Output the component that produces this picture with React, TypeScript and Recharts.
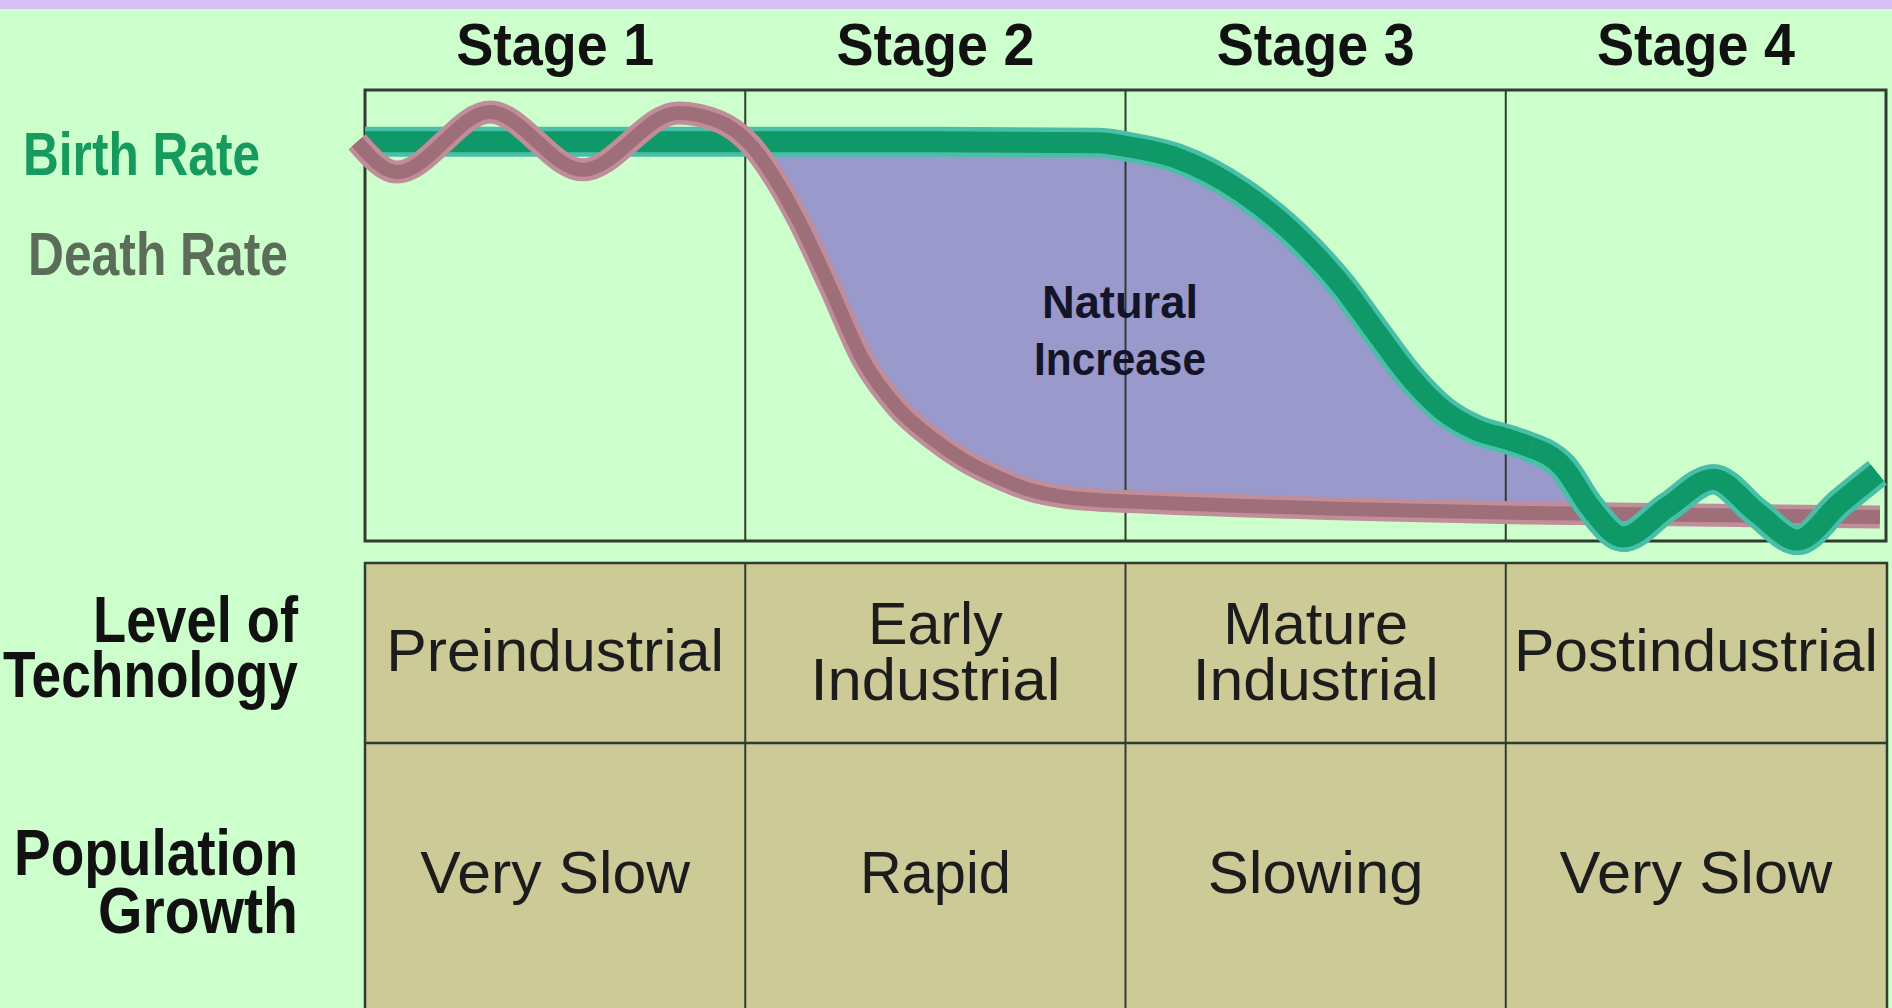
import React from "react";
import {
  ComposedChart,
  Line,
  Area,
  XAxis,
  YAxis,
  ReferenceLine,
  ReferenceArea,
  ReferenceDot,
} from "recharts";

const FONT = '"Liberation Sans", Arial, sans-serif';

// stage headers sit in the middle of each stage on the x axis
const STAGE_LABELS = ["Stage 1", "Stage 2", "Stage 3", "Stage 4"];
const STAGE_CENTERS = [0.5, 1.5, 2.5, 3.5];
const STAGE_BOUNDS = [1, 2, 3];

// birth rate (x in stages, y = 0..100 of the box height)
const BIRTH_X = [0, 1.0, 1.5, 1.93, 2.0, 2.135, 2.309, 2.44, 2.572, 2.661, 2.748, 2.835, 2.924, 3.011, 3.064, 3.151, 3.222, 3.309, 3.425, 3.546, 3.662, 3.767, 3.879, 3.977];
const BIRTH_Y = [88.5, 88.5, 88.5, 88.3, 87.5, 84.9, 77.2, 68.3, 56.3, 46.1, 36.4, 29.0, 24.6, 22.4, 20.8, 16.4, 7.5, 0.9, 7.5, 13.7, 6.2, 0.2, 8.4, 15.1];

// death rate
const DEATH_X = [-0.021, 0.084, 0.329, 0.573, 0.823, 0.934, 1.002, 1.136, 1.223, 1.31, 1.399, 1.486, 1.573, 1.662, 1.749, 1.836, 1.925, 2.057, 3.064, 3.984];
const DEATH_Y = [88.5, 81.8, 95.1, 82.3, 94.9, 92.9, 88.9, 71.8, 56.3, 40.1, 29.7, 23.1, 18.0, 14.2, 11.3, 9.8, 9.1, 8.6, 6.2, 5.3];

// natural increase = gap between death (low) and birth (high)
const INCREASE_X = [1.0, 1.05, 1.1, 1.2, 1.3, 1.4, 1.5, 1.6, 1.7, 1.8, 1.9, 2.0, 2.2, 2.4, 2.6, 2.8, 3.0, 3.1, 3.2, 3.24];
const INCREASE_LOW = [88.5, 83.8, 76.7, 60.5, 41.9, 29.7, 22.4, 16.9, 13.3, 10.4, 9.3, 8.9, 8.2, 7.8, 7.3, 6.9, 6.4, 6.2, 6.0, 6.0];
const INCREASE_HIGH = [88.5, 88.5, 88.5, 88.5, 88.5, 88.5, 88.5, 88.5, 88.5, 88.5, 88.4, 87.5, 82.3, 71.0, 53.0, 31.9, 22.6, 19.1, 9.8, 6.4];

// table under the chart
const TECHNOLOGY = [["Preindustrial"], ["Early", "Industrial"], ["Mature", "Industrial"], ["Postindustrial"]];
const TECH_WIDTHS = [[338], [135, 250], [185, 246], [364]];
const GROWTH = ["Very Slow", "Rapid", "Slowing", "Very Slow"];
const GROWTH_WIDTHS = [270, 151, 216, 273];

const birthData = BIRTH_X.map((x, i) => ({ x, y: BIRTH_Y[i] }));
const birthTail = birthData.filter((d) => d.x >= 3.06);
const deathData = DEATH_X.map((x, i) => ({ x, y: DEATH_Y[i] }));
const increaseData = INCREASE_X.map((x, i) => ({ x, range: [INCREASE_LOW[i], INCREASE_HIGH[i]] }));

const BOX_LEFT = 365;
const STAGE_W = 380.25;
const LINE_COLOR = "#2e3d30";

function StageTick(props: any) {
  const { x, y, payload } = props;
  const label = STAGE_LABELS[STAGE_CENTERS.indexOf(payload.value)];
  return (
    <text x={x} y={y} textAnchor="middle" fontFamily={FONT} fontSize={60} fontWeight="bold" fill="#111"
      textLength={198} lengthAdjust="spacingAndGlyphs">
      {label}
    </text>
  );
}

function IncreaseLabel(props: any) {
  const vb = props.viewBox || {};
  const cx = vb.x + (vb.width || 0) / 2;
  const cy = vb.y + (vb.height || 0) / 2;
  return (
    <g>
      <text x={cx} y={cy - 12} textAnchor="middle" fontFamily={FONT} fontSize={46} fontWeight="bold" fill="#141428"
        textLength={156} lengthAdjust="spacingAndGlyphs">Natural</text>
      <text x={cx} y={cy + 45} textAnchor="middle" fontFamily={FONT} fontSize={46} fontWeight="bold" fill="#141428"
        textLength={172} lengthAdjust="spacingAndGlyphs">Increase</text>
    </g>
  );
}

function Table() {
  const top = 563;
  const split = 743;
  const right = BOX_LEFT + STAGE_W * 4 + 1;
  const col = (i: number) => BOX_LEFT + STAGE_W * i;
  const mid = (i: number) => BOX_LEFT + STAGE_W * (i + 0.5);
  const cellText = { fontFamily: FONT, fontSize: 59, fill: "#1c1c1c", textAnchor: "middle" as const, lengthAdjust: "spacingAndGlyphs" };
  const sideText = { fontFamily: FONT, fontSize: 64, fontWeight: "bold" as const, fill: "#111", textAnchor: "end" as const, lengthAdjust: "spacingAndGlyphs" };
  return (
    <svg width={1892} height={1008} style={{ position: "absolute", left: 0, top: 0, pointerEvents: "none" }}>
      <rect x={0} y={0} width={1892} height={9} fill="#d6c0f5" />

      {/* left legend */}
      <text x={23} y={175} fontFamily={FONT} fontSize={62} fontWeight="bold" fill="#169a5e" textLength={237} lengthAdjust="spacingAndGlyphs">Birth Rate</text>
      <text x={28} y={275} fontFamily={FONT} fontSize={62} fontWeight="bold" fill="#5b6c59" textLength={260} lengthAdjust="spacingAndGlyphs">Death Rate</text>

      {/* row headers */}
      <text x={298} y={642} {...sideText} textLength={205}>Level of</text>
      <text x={298} y={697} {...sideText} textLength={295}>Technology</text>
      <text x={298} y={875} {...sideText} textLength={284}>Population</text>
      <text x={298} y={933} {...sideText} textLength={200}>Growth</text>

      <rect x={BOX_LEFT} y={top} width={right - BOX_LEFT} height={1008 - top + 4} fill="#cccb98" stroke={LINE_COLOR} strokeWidth={2.5} />
      <line x1={BOX_LEFT} x2={right} y1={split} y2={split} stroke={LINE_COLOR} strokeWidth={2.5} />
      {STAGE_BOUNDS.map((b) => (
        <line key={b} x1={col(b)} x2={col(b)} y1={top} y2={1008} stroke={LINE_COLOR} strokeWidth={2} />
      ))}

      {TECHNOLOGY.map((lines, i) =>
        lines.length === 1 ? (
          <text key={i} x={mid(i)} y={671} {...cellText} textLength={TECH_WIDTHS[i][0]}>{lines[0]}</text>
        ) : (
          <g key={i}>
            <text x={mid(i)} y={644} {...cellText} textLength={TECH_WIDTHS[i][0]}>{lines[0]}</text>
            <text x={mid(i)} y={700} {...cellText} textLength={TECH_WIDTHS[i][1]}>{lines[1]}</text>
          </g>
        )
      )}
      {GROWTH.map((g, i) => (
        <text key={i} x={mid(i)} y={893} {...cellText} textLength={GROWTH_WIDTHS[i]}>{g}</text>
      ))}
    </svg>
  );
}

export default function App() {
  return (
    <div style={{ position: "absolute", left: 0, top: 0, width: 1892, height: 1008, background: "#ccffcc", overflow: "hidden" }}>
      <div style={{ position: "absolute", left: 0, top: 0 }}>
        <ComposedChart width={1892} height={560} margin={{ top: 30, right: 6, bottom: 19, left: 355.5 }}>
          <XAxis
            dataKey="x"
            type="number"
            domain={[-0.025, 4]}
            ticks={STAGE_CENTERS}
            interval={0}
            orientation="top"
            height={60}
            axisLine={false}
            tickLine={false}
            tickSize={0}
            tickMargin={25}
            tick={<StageTick />}
          />
          <YAxis hide type="number" domain={[0, 100]} />

          <ReferenceArea x1={0} x2={4} y1={0} y2={100} fill="none" stroke={LINE_COLOR} strokeWidth={3} />
          {STAGE_BOUNDS.map((b) => (
            <ReferenceLine key={b} x={b} stroke={LINE_COLOR} strokeWidth={2} />
          ))}

          <Area data={increaseData} dataKey="range" type="monotone" fill="#9a99cc" fillOpacity={1} stroke="none" isAnimationActive={false} />

          <Line data={birthData} dataKey="y" type="monotone" stroke="#4abfa8" strokeWidth={30} dot={false} isAnimationActive={false} />
          <Line data={birthData} dataKey="y" type="monotone" stroke="#0f9868" strokeWidth={21} dot={false} isAnimationActive={false} />

          <Line data={deathData} dataKey="y" type="monotone" stroke="#c08d9a" strokeWidth={23} dot={false} isAnimationActive={false} />
          <Line data={deathData} dataKey="y" type="monotone" stroke="#9f6f79" strokeWidth={14} dot={false} isAnimationActive={false} />

          {/* the stage 4 wave of the birth rate runs over the death rate */}
          <Line data={birthTail} dataKey="y" type="monotone" stroke="#4abfa8" strokeWidth={30} dot={false} isAnimationActive={false} />
          <Line data={birthTail} dataKey="y" type="monotone" stroke="#0f9868" strokeWidth={21} dot={false} isAnimationActive={false} />

          <ReferenceDot x={1.9855} y={46.8} r={0} fill="none" stroke="none" label={<IncreaseLabel />} />
        </ComposedChart>
      </div>
      <Table />
    </div>
  );
}
